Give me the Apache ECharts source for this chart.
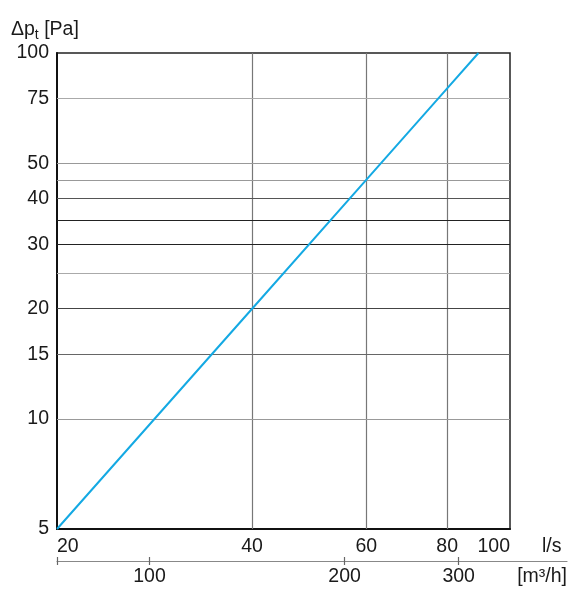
<!DOCTYPE html>
<html>
<head>
<meta charset="utf-8">
<script src="https://cdn.jsdelivr.net/npm/echarts@6/dist/echarts.min.js"></script>
<style>
  html, body { margin: 0; padding: 0; background: #fff; }
  #chart { width: 584px; height: 600px; }
</style>
</head>
<body>
<div id="chart"></div>
<script>
// volume flow (l/s) vs total pressure drop (Pa)
const flowLs = [20, 40, 60, 80, 89.4]
const pressurePa = [5, 20, 45, 80, 100]

// tick labels
const xTickLabels = [20, 40, 60, 80, 100]
const yTickLabels = [5, 10, 15, 20, 30, 40, 50, 75, 100]
const m3hTickLabels = [100, 200, 300]

// grid lines
const xGridValues = [40, 60, 80]
const yGridValues = [10, 15, 20, 25, 30, 35, 40, 45, 50, 75]

const LS_TO_M3H = 3.6
const FONT = "'Liberation Sans', Arial, sans-serif"
const TEXT = '#1a1a1a'

// some horizontal lines are printed darker than others
const gridShade = { 10: '#999', 15: '#666', 20: '#444', 25: '#aaa', 30: '#222', 35: '#222', 40: '#555', 45: '#999', 50: '#999', 75: '#aaa' }

const chart = echarts.init(document.getElementById('chart'))

const m3hMin = xTickLabels[0] * LS_TO_M3H
const m3hMax = xTickLabels[xTickLabels.length - 1] * LS_TO_M3H * Math.pow(5, 57 / 453)

const labelText = { fontFamily: FONT, fontSize: 19.5, color: TEXT }

chart.setOption({
  animation: false,
  title: {
    left: 6,
    top: 11,
    text: '{a|Δp}{s|t}{a| [Pa]}',
    textStyle: {
      fontWeight: 'normal',
      rich: {
        a: { fontFamily: FONT, fontSize: 19.5, fontWeight: 'normal', color: TEXT, lineHeight: 24, verticalAlign: 'bottom' },
        s: { fontFamily: FONT, fontSize: 14, fontWeight: 'normal', color: TEXT, lineHeight: 24, verticalAlign: 'bottom', padding: [0, 0, -2, 0] }
      }
    }
  },
  grid: [{
    left: 57,
    right: 74,
    top: 53,
    bottom: 71,
    show: true,
    borderColor: '#222',
    borderWidth: 1.5
  }, {
    left: 57,
    right: 17,
    top: 530,
    bottom: 39
  }],
  xAxis: [{
    type: 'log',
    gridIndex: 0,
    position: 'bottom',
    min: 20,
    max: 100,
    name: 'l/s',
    nameLocation: 'end',
    nameGap: 32,
    nameTextStyle: Object.assign({ align: 'left', verticalAlign: 'top', padding: [8, 0, 0, 0] }, labelText),
    axisLine: { lineStyle: { color: '#111', width: 2 } },
    axisTick: { show: false },
    splitLine: { show: false },
    axisLabel: Object.assign({
      customValues: xTickLabels,
      formatter: v => String(Math.round(v)),
      alignMinLabel: 'left',
      alignMaxLabel: 'right',
      margin: 8
    }, labelText)
  }, {
    type: 'log',
    gridIndex: 1,
    position: 'bottom',
    min: m3hMin,
    max: m3hMax,
    name: '[m³/h]',
    nameLocation: 'end',
    nameGap: 0,
    nameTextStyle: Object.assign({ align: 'right', verticalAlign: 'top', padding: [6, 0, 0, 0] }, labelText),
    axisLine: { lineStyle: { color: '#888', width: 1.2 } },
    axisTick: { customValues: [m3hMin].concat(m3hTickLabels), length: 4, lineStyle: { color: '#666', width: 1.2 } },
    splitLine: { show: false },
    axisLabel: Object.assign({
      customValues: m3hTickLabels,
      formatter: v => String(Math.round(v)),
      margin: 6
    }, labelText)
  }, {
    type: 'log',
    gridIndex: 1,
    position: 'bottom',
    min: m3hMin,
    max: m3hMax,
    axisLine: { show: false },
    axisTick: { customValues: [m3hMin].concat(m3hTickLabels), inside: true, length: 4, lineStyle: { color: '#666', width: 1.2 } },
    splitLine: { show: false },
    axisLabel: { show: false }
  }],
  yAxis: [{
    type: 'log',
    gridIndex: 0,
    min: 5,
    max: 100,
    axisLine: { lineStyle: { color: '#111', width: 2 } },
    axisTick: { show: false },
    splitLine: { show: false },
    axisLabel: Object.assign({
      customValues: yTickLabels,
      formatter: v => String(Math.round(v)),
      margin: 8
    }, labelText)
  }, {
    type: 'value',
    gridIndex: 1,
    min: 0,
    max: 1,
    show: false
  }],
  series: [{
    type: 'line',
    xAxisIndex: 0,
    yAxisIndex: 0,
    data: flowLs.map((q, i) => [q, pressurePa[i]]),
    showSymbol: false,
    lineStyle: { color: '#14a9e3', width: 2 },
    z: 5,
    markLine: {
      silent: true,
      symbol: ['none', 'none'],
      label: { show: false },
      animation: false,
      data: xGridValues.map(v => ({ xAxis: v, lineStyle: { color: '#777', width: 1.2, type: 'solid' } }))
        .concat(yGridValues.map(v => ({ yAxis: v, lineStyle: { color: gridShade[v], width: 1.2, type: 'solid' } })))
    }
  }]
})
</script>
</body>
</html>
